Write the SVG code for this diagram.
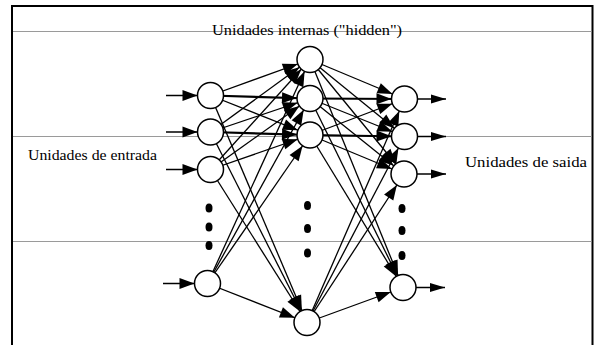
<svg xmlns="http://www.w3.org/2000/svg" width="595" height="345" viewBox="0 0 595 345">
  <style>
    .frame { stroke: #000; stroke-width: 2; fill: none; }
    .rule { stroke: #9a9a9a; stroke-width: 1; }
    .unit { fill: #fff; stroke: #000; stroke-width: 1.5; }
    .dot { fill: #000; }
    .edge { stroke: #000; stroke-width: 1.3; fill: none; marker-end: url(#head-node); }
    .edge.main { stroke-width: 2.2; }
    .io { stroke: #000; stroke-width: 1.5; fill: none; }
    .label { font-family: "Liberation Serif", "Times New Roman", serif; font-size: 15px; fill: #000; }
  </style>
  <defs>
    <!-- tip sits 13px before the line end, i.e. on the rim of a unit of radius 13 -->
    <marker id="head-node" markerUnits="userSpaceOnUse" markerWidth="40" markerHeight="20" refX="0" refY="0" orient="auto" overflow="visible">
      <path d="M -28 -5.5 L -13 0 L -28 5.5 Z" fill="#000"/>
    </marker>
    <marker id="head-end" markerUnits="userSpaceOnUse" markerWidth="20" markerHeight="20" refX="0" refY="0" orient="auto" overflow="visible">
      <path d="M -15 -4.5 L 0 0 L -15 4.5 Z" fill="#000"/>
    </marker>
  </defs>

  <rect width="595" height="345" fill="#fff"/>

  <!-- page frame and ruled lines -->
  <g id="frame">
    <path class="frame" d="M12 345 V6 H592.5 V345"/>
    <line class="rule" x1="13" y1="31.5" x2="591.5" y2="31.5"/>
    <line class="rule" x1="13" y1="136.5" x2="591.5" y2="136.5"/>
    <line class="rule" x1="13" y1="241.5" x2="591.5" y2="241.5"/>
  </g>

  <!-- connections -->
  <g id="connectors">
    <!-- external inputs -->
    <line class="edge" x1="166" y1="95.5" x2="210.5" y2="95.5"/>
    <line class="edge" x1="166" y1="132" x2="210.5" y2="132"/>
    <line class="edge" x1="166" y1="169.5" x2="210.5" y2="169.5"/>
    <line class="edge" x1="163" y1="283.5" x2="207.5" y2="283.5"/>

    <!-- input -> hidden -->
    <line class="edge" x1="210.5" y1="95.5" x2="310" y2="59.5"/>
    <line class="edge main" x1="210.5" y1="95.5" x2="310" y2="98.5"/>
    <line class="edge" x1="210.5" y1="95.5" x2="310" y2="135"/>
    <line class="edge" x1="210.5" y1="95.5" x2="307" y2="322.5"/>

    <line class="edge" x1="210.5" y1="132" x2="310" y2="59.5"/>
    <line class="edge" x1="210.5" y1="132" x2="310" y2="98.5"/>
    <line class="edge main" x1="210.5" y1="132" x2="310" y2="135"/>
    <line class="edge" x1="210.5" y1="132" x2="307" y2="322.5"/>

    <line class="edge" x1="210.5" y1="169.5" x2="310" y2="59.5"/>
    <line class="edge" x1="210.5" y1="169.5" x2="310" y2="98.5"/>
    <line class="edge" x1="210.5" y1="169.5" x2="310" y2="135"/>
    <line class="edge" x1="210.5" y1="169.5" x2="307" y2="322.5"/>

    <line class="edge" x1="207.5" y1="283.5" x2="310" y2="59.5"/>
    <line class="edge" x1="207.5" y1="283.5" x2="310" y2="98.5"/>
    <line class="edge" x1="207.5" y1="283.5" x2="310" y2="135"/>
    <line class="edge" x1="207.5" y1="283.5" x2="307" y2="322.5"/>

    <!-- hidden -> output -->
    <line class="edge" x1="310" y1="59.5" x2="404.5" y2="99"/>
    <line class="edge" x1="310" y1="59.5" x2="404.5" y2="136.5"/>
    <line class="edge" x1="310" y1="59.5" x2="404" y2="174"/>
    <line class="edge" x1="310" y1="59.5" x2="403" y2="287.5"/>

    <line class="edge main" x1="310" y1="98.5" x2="404.5" y2="99"/>
    <line class="edge" x1="310" y1="98.5" x2="404.5" y2="136.5"/>
    <line class="edge" x1="310" y1="98.5" x2="404" y2="174"/>
    <line class="edge" x1="310" y1="98.5" x2="403" y2="287.5"/>

    <line class="edge" x1="310" y1="135" x2="404.5" y2="99"/>
    <line class="edge main" x1="310" y1="135" x2="404.5" y2="136.5"/>
    <line class="edge" x1="310" y1="135" x2="404" y2="174"/>
    <line class="edge" x1="310" y1="135" x2="403" y2="287.5"/>

    <line class="edge" x1="307" y1="322.5" x2="404.5" y2="99"/>
    <line class="edge" x1="307" y1="322.5" x2="404.5" y2="136.5"/>
    <line class="edge" x1="307" y1="322.5" x2="404" y2="174"/>
    <line class="edge" x1="307" y1="322.5" x2="403" y2="287.5"/>

    <!-- external outputs -->
    <line class="io" x1="417" y1="99" x2="446" y2="99" marker-end="url(#head-end)"/>
    <line class="io" x1="417" y1="136.5" x2="446" y2="136.5" marker-end="url(#head-end)"/>
    <line class="io" x1="417" y1="174" x2="446" y2="174" marker-end="url(#head-end)"/>
    <line class="io" x1="416" y1="287.5" x2="445" y2="287.5" marker-end="url(#head-end)"/>
  </g>

  <!-- input units -->
  <g id="input-1"><circle class="unit" cx="210.5" cy="95.5" r="13"/></g>
  <g id="input-2"><circle class="unit" cx="210.5" cy="132" r="13"/></g>
  <g id="input-3"><circle class="unit" cx="210.5" cy="169.5" r="13"/></g>
  <g id="input-n"><circle class="unit" cx="207.5" cy="283.5" r="13"/></g>
  <g id="input-dots">
    <ellipse class="dot" cx="209" cy="208" rx="3.5" ry="4.5"/>
    <ellipse class="dot" cx="209" cy="227" rx="3.5" ry="4.5"/>
    <ellipse class="dot" cx="209" cy="245.5" rx="3.5" ry="4.5"/>
  </g>

  <!-- hidden units -->
  <g id="hidden-1"><circle class="unit" cx="310" cy="59.5" r="13"/></g>
  <g id="hidden-2"><circle class="unit" cx="310" cy="98.5" r="13"/></g>
  <g id="hidden-3"><circle class="unit" cx="310" cy="135" r="13"/></g>
  <g id="hidden-n"><circle class="unit" cx="307" cy="322.5" r="13"/></g>
  <g id="hidden-dots">
    <ellipse class="dot" cx="307.5" cy="205.5" rx="3.5" ry="4.5"/>
    <ellipse class="dot" cx="307.5" cy="228.5" rx="3.5" ry="4.5"/>
    <ellipse class="dot" cx="307.5" cy="253" rx="3.5" ry="4.5"/>
  </g>

  <!-- output units -->
  <g id="output-1"><circle class="unit" cx="404.5" cy="99" r="13"/></g>
  <g id="output-2"><circle class="unit" cx="404.5" cy="136.5" r="13"/></g>
  <g id="output-3"><circle class="unit" cx="404" cy="174" r="13"/></g>
  <g id="output-n"><circle class="unit" cx="403" cy="287.5" r="13"/></g>
  <g id="output-dots">
    <ellipse class="dot" cx="402" cy="208.5" rx="3.5" ry="4.5"/>
    <ellipse class="dot" cx="402" cy="230.5" rx="3.5" ry="4.5"/>
    <ellipse class="dot" cx="402" cy="255.5" rx="3.5" ry="4.5"/>
  </g>

  <!-- layer captions -->
  <g id="captions">
    <text class="label" font-family="Liberation Serif, serif" x="212" y="34.5" textLength="190" lengthAdjust="spacingAndGlyphs">Unidades internas ("hidden")</text>
    <text class="label" font-family="Liberation Serif, serif" x="28" y="160" textLength="129" lengthAdjust="spacingAndGlyphs">Unidades de entrada</text>
    <text class="label" font-family="Liberation Serif, serif" x="465" y="167" textLength="122" lengthAdjust="spacingAndGlyphs">Unidades de saida</text>
  </g>
</svg>
